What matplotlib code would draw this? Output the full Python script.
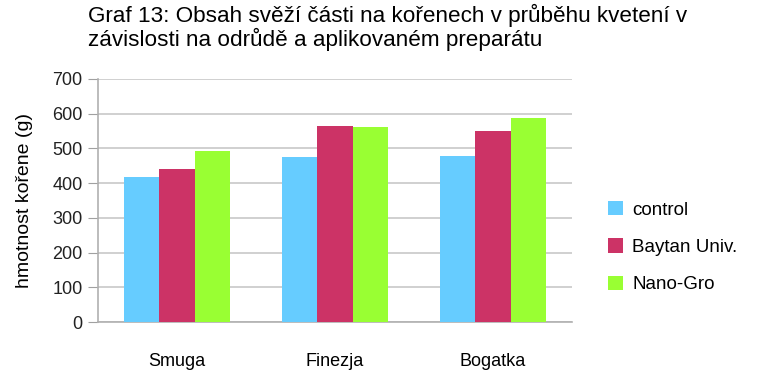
import matplotlib
matplotlib.use("Agg")
import matplotlib.pyplot as plt
import numpy as np

categories = ["Smuga", "Finezja", "Bogatka"]
series_names = ["control", "Baytan Univ.", "Nano-Gro"]
control = [418, 475, 478]
baytan = [440, 564, 550]
nanogro = [492, 561, 587]
colors = ["#66CCFF", "#CC3366", "#99FF33"]
yticks = [0, 100, 200, 300, 400, 500, 600, 700]

plt.rcParams['font.family'] = ['Liberation Sans', 'DejaVu Sans']

fig = plt.figure(figsize=(7.58, 3.76), dpi=100)
ax = fig.add_axes([0.1293, 0.1436, 0.6253, 0.6463])

x = np.arange(len(categories))
w = 0.222
handles = []
for i, (vals, c, name) in enumerate(zip([control, baytan, nanogro], colors, series_names)):
    b = ax.bar(x + (i - 1) * w, vals, width=w, color=c, label=name, zorder=3)
    handles.append(b)

ax.set_xlim(-0.5, 2.5)
ax.set_ylim(0, 700)
ax.set_yticks(yticks)
ax.set_yticklabels([str(t) for t in yticks], fontsize=13, color="#222222")
ax.set_xticks(x)
ax.set_xticklabels(categories, fontsize=13)
ax.tick_params(axis='x', length=0, pad=22)
ax.tick_params(axis='y', length=7, color="#a0a0a0", pad=4)
ax.grid(axis='y', color="#c8c8c8", linewidth=1.2, zorder=0)
for s in ["top", "right"]:
    ax.spines[s].set_visible(False)
for s in ["left", "bottom"]:
    ax.spines[s].set_color("#b0b0b0")
    ax.spines[s].set_linewidth(1.2)

ax.set_ylabel("hmotnost kořene (g)", fontsize=14, labelpad=14)

fig.text(0.116, 0.99, "Graf 13: Obsah svěží části na kořenech v průběhu kvetení v\nzávislosti na odrůdě a aplikovaném preparátu",
         fontsize=16.2, ha='left', va='top', linespacing=1.05)

leg = fig.legend(handles=handles, labels=series_names, loc='center left',
                 bbox_to_anchor=(0.78, 0.343), frameon=False, fontsize=13.5,
                 handlelength=0.8, handleheight=0.8, handletextpad=0.5,
                 labelspacing=1.05)

fig.savefig("out.png", dpi=100)
